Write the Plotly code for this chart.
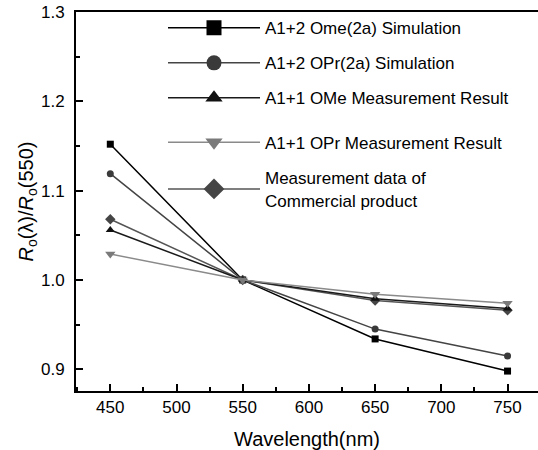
import plotly.graph_objects as go

wavelength = [450, 550, 650, 750]
ome_sim = [1.152, 1.0, 0.934, 0.898]
opr_sim = [1.119, 1.0, 0.945, 0.915]
ome_meas = [1.056, 1.0, 0.979, 0.968]
opr_meas = [1.029, 1.0, 0.984, 0.974]
commercial = [1.068, 1.0, 0.977, 0.966]

names = ["A1+2 Ome(2a) Simulation", "A1+2 OPr(2a) Simulation",
         "A1+1 OMe Measurement Result", "A1+1 OPr Measurement Result",
         "Measurement data of<br>Commercial product"]
series = [ome_sim, opr_sim, ome_meas, opr_meas, commercial]
symbols = ["square", "circle", "triangle-up", "triangle-down", "diamond"]
line_colors = ["#000000", "#444444", "#1a1a1a", "#8a8a8a", "#555555"]
marker_colors = ["#000000", "#3a3a3a", "#111111", "#7a7a7a", "#454545"]
plot_sizes = [7, 7, 8, 9, 8]
legend_sizes = [15, 15, 15, 15, 16]
legend_rows_px = [28.3, 63.3, 98.3, 142.7, 189.3]

W, H = 538, 450
ml, mr, mt, mb = 76, 0, 12, 59
plot_h = H - mt - mb
plot_w = W - ml - mr

fig = go.Figure()
draw_order = [0, 1, 4, 2, 3]
for i in draw_order:
    fig.add_trace(go.Scatter(
        x=wavelength, y=series[i], mode="lines+markers", showlegend=False,
        line=dict(color=line_colors[i], width=1.5),
        marker=dict(symbol=symbols[i], size=plot_sizes[i], color=marker_colors[i]),
    ))

font = "Liberation Sans, Arial, sans-serif"
for i in range(5):
    lname = "legend" if i == 0 else f"legend{i+1}"
    fig.add_trace(go.Scatter(
        x=[None], y=[None], mode="lines+markers", name=names[i], legend=lname,
        line=dict(color=line_colors[i], width=1.5),
        marker=dict(symbol=symbols[i], size=legend_sizes[i], color=marker_colors[i]),
    ))
    ly = 1 - (legend_rows_px[i] - mt) / plot_h
    lx = (163 - ml) / plot_w
    fig.update_layout({lname: dict(
        x=lx, y=ly, xanchor="left", yanchor="middle", itemwidth=92,
        bgcolor="rgba(0,0,0,0)", borderwidth=0,
        font=dict(family=font, size=17, color="#000"),
    )})

fig.update_layout(
    width=W, height=H,
    margin=dict(l=ml, r=mr, t=mt, b=mb, pad=0),
    paper_bgcolor="white", plot_bgcolor="white",
    font=dict(family=font, size=17, color="#000"),
    xaxis=dict(
        range=[424.1, 773.0], tickvals=[450, 500, 550, 600, 650, 700, 750],
        ticks="inside", ticklen=7, tickwidth=1.5, tickcolor="#000",
        minor=dict(dtick=25, ticks="inside", ticklen=4, tickwidth=1.5, tickcolor="#000"),
        showline=True, linecolor="#000", linewidth=2, mirror=True,
        showgrid=False, zeroline=False, automargin=False,
        title=dict(text="Wavelength(nm)", standoff=16, font=dict(size=20)),
        tickfont=dict(size=17),
    ),
    yaxis=dict(
        range=[0.8757, 1.3], tickvals=[0.9, 1.0, 1.1, 1.2, 1.3],
        ticktext=["0.9", "1.0", "1.1", "1.2", "1.3"],
        ticks="inside", ticklen=7, tickwidth=1.5, tickcolor="#000",
        minor=dict(dtick=0.05, ticks="inside", ticklen=4, tickwidth=1.5, tickcolor="#000"),
        showline=True, linecolor="#000", linewidth=2, mirror=False,
        showgrid=False, zeroline=False, automargin=False, ticklabelstandoff=6,
        title=dict(text="<i>R</i><sub>o</sub>(λ)/<i>R</i><sub>o</sub>(550)", standoff=2, font=dict(size=20)),
        tickfont=dict(size=17),
    ),
)

fig.write_html("out.html", config={"displayModeBar": False},
               post_script="document.body.style.margin='0';document.body.style.overflow='hidden';")
